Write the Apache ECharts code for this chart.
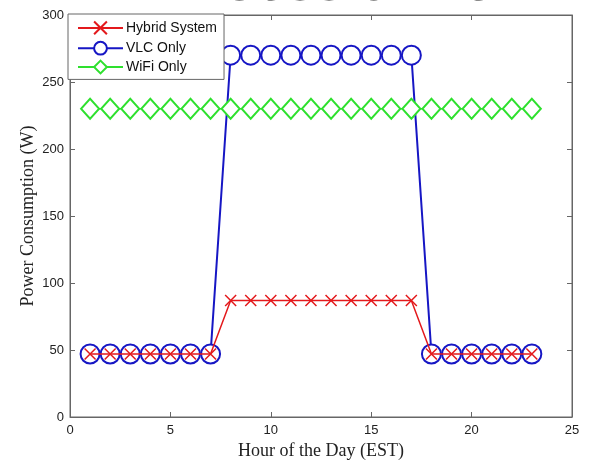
<!DOCTYPE html>
<html>
<head>
<meta charset="utf-8">
<style>
  html, body { margin: 0; padding: 0; background: #ffffff; }
  #chart { width: 594px; height: 460px; }
</style>
<script src="https://cdn.jsdelivr.net/npm/echarts@6/dist/echarts.min.js"></script>
</head>
<body>
<div id="chart"></div>
<script>
// Hour of the day (EST)
var hours = [1, 2, 3, 4, 5, 6, 7, 8, 9, 10, 11, 12, 13, 14, 15, 16, 17, 18, 19, 20, 21, 22, 23];

// Power consumption (W) per hour
var hybridPower = [47, 47, 47, 47, 47, 47, 47, 87, 87, 87, 87, 87, 87, 87, 87, 87, 87, 47, 47, 47, 47, 47, 47];
var vlcPower    = [47, 47, 47, 47, 47, 47, 47, 270, 270, 270, 270, 270, 270, 270, 270, 270, 270, 47, 47, 47, 47, 47, 47];
var wifiPower   = [230, 230, 230, 230, 230, 230, 230, 230, 230, 230, 230, 230, 230, 230, 230, 230, 230, 230, 230, 230, 230, 230, 230];

var seriesNames = ['Hybrid System', 'VLC Only', 'WiFi Only'];
var xTicks = [0, 5, 10, 15, 20, 25];
var yTicks = [0, 50, 100, 150, 200, 250, 300];

function pairs(xs, ys) {
  return xs.map(function (x, i) { return [x, ys[i]]; });
}

var RED = '#e3191c', BLUE = '#1616c4', GREEN = '#2ee02e';
var AXIS = '#666666';
var sans = 'Liberation Sans';
var serif = 'Liberation Serif';

var tickStyle = { inside: true, length: 5, lineStyle: { color: AXIS, width: 1 } };

var chart = echarts.init(document.getElementById('chart'), null, { renderer: 'canvas' });
chart.setOption({
  backgroundColor: '#ffffff',
  animation: false,
  grid: {
    left: 70, right: 22, top: 15, bottom: 43,
    outerBoundsMode: 'none', containLabel: false,
    show: true, borderColor: AXIS, borderWidth: 1
  },
  graphic: [{
    type: 'text',
    left: 222,
    top: -40,
    style: { text: 'Session 13', font: 'bold 52px "Liberation Sans"', fill: '#111111' },
    z: 0
  }],
  legend: {
    orient: 'vertical',
    left: 68,
    top: 14,
    data: seriesNames,
    backgroundColor: '#ffffff',
    borderColor: AXIS,
    borderWidth: 1,
    borderRadius: 0,
    padding: [5, 7, 5, 9],
    itemGap: 4,
    itemWidth: 45,
    itemHeight: 16,
    textStyle: { fontFamily: sans, fontSize: 14, color: '#111111', padding: [0, 0, 0, -2] },
    z: 10
  },
  xAxis: [{
    type: 'value', min: 0, max: 25, interval: 5,
    name: 'Hour of the Day (EST)', nameLocation: 'middle', nameGap: 25, nameMoveOverlap: false,
    nameTextStyle: { fontFamily: serif, fontSize: 18, color: '#222222' },
    axisLine: { show: true, onZero: false, lineStyle: { color: AXIS, width: 1 } },
    axisTick: tickStyle,
    axisLabel: { fontFamily: sans, fontSize: 13, color: '#222222', margin: 7,
      formatter: function (v) { return xTicks.indexOf(v) >= 0 ? String(v) : ''; } },
    splitLine: { show: false }
  }, {
    type: 'value', min: 0, max: 25, interval: 5, position: 'top',
    axisLine: { show: true, onZero: false, lineStyle: { color: AXIS, width: 1 } },
    axisTick: tickStyle, axisLabel: { show: false }, splitLine: { show: false }
  }],
  yAxis: [{
    type: 'value', min: 0, max: 300, interval: 50,
    name: 'Power Consumption (W)', nameLocation: 'middle', nameGap: 33, nameMoveOverlap: false,
    nameTextStyle: { fontFamily: serif, fontSize: 18, color: '#222222' },
    axisLine: { show: true, onZero: false, lineStyle: { color: AXIS, width: 1 } },
    axisTick: tickStyle,
    axisLabel: { fontFamily: sans, fontSize: 13, color: '#222222', margin: 6,
      formatter: function (v) { return yTicks.indexOf(v) >= 0 ? String(v) : ''; } },
    splitLine: { show: false }
  }, {
    type: 'value', min: 0, max: 300, interval: 50, position: 'right',
    axisLine: { show: true, onZero: false, lineStyle: { color: AXIS, width: 1 } },
    axisTick: tickStyle, axisLabel: { show: false }, splitLine: { show: false }
  }],
  series: [{
    name: seriesNames[1],
    type: 'line',
    data: pairs(hours, vlcPower),
    symbol: 'emptyCircle', symbolSize: 19,
    lineStyle: { color: BLUE, width: 2 },
    itemStyle: { color: BLUE, borderColor: BLUE, borderWidth: 2 },
    z: 2
  }, {
    name: seriesNames[2],
    type: 'line',
    data: pairs(hours, wifiPower),
    symbol: 'emptyDiamond', symbolSize: [18, 20],
    lineStyle: { color: GREEN, width: 1.5 },
    itemStyle: { color: GREEN, borderColor: GREEN, borderWidth: 2 },
    z: 3
  }, {
    name: seriesNames[0],
    type: 'line',
    data: pairs(hours, hybridPower),
    symbol: 'path://M0,0L10,10M10,0L0,10', symbolSize: 11,
    lineStyle: { color: RED, width: 1.5 },
    itemStyle: { color: 'none', borderColor: RED, borderWidth: 1.5 },
    z: 4
  }]
});
</script>
</body>
</html>
